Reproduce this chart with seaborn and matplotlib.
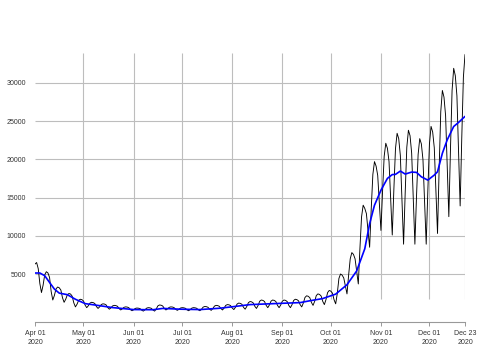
import matplotlib
matplotlib.use("Agg")
import matplotlib.pyplot as plt
import pandas as pd
import seaborn as sns

# daily new cases
apr = [6300, 6500, 5700, 3750, 2580, 3530, 4890, 5300, 5140, 4560, 2710, 1600, 2200, 3050, 3300,
       3200, 2900, 1900, 1300, 1700, 2280, 2450, 2380, 2100, 1230, 700, 1050, 1550, 1700, 1650]
may = [1480, 930, 600, 850, 1200, 1300, 1260, 1140, 740, 500, 710, 1010, 1100, 1070, 960, 610,
       400, 580, 830, 900, 870, 780, 480, 300, 440, 640, 700, 680, 600, 350, 200]
jun = [320, 500, 550, 530, 470, 270, 150, 310, 530, 600, 580, 510, 290, 150, 430, 830, 950, 920,
       820, 500, 300, 440, 640, 700, 680, 610, 390, 250, 370, 550]
jul = [600, 580, 520, 320, 200, 340, 540, 600, 580, 520, 320, 200, 390, 670, 750, 730, 650, 400,
       250, 480, 800, 900, 870, 780, 480, 300, 550, 900, 1000, 970, 870]
aug = [550, 350, 650, 1070, 1200, 1160, 1040, 640, 400, 750, 1250, 1400, 1360, 1220, 770, 500,
       890, 1440, 1600, 1550, 1400, 900, 600, 950, 1450, 1600, 1550, 1400, 900, 600, 950]
sep = [1450, 1600, 1550, 1400, 900, 600, 990, 1540, 1700, 1650, 1500, 1000, 700, 1210, 1930, 2150,
       2090, 1900, 1280, 900, 1430, 2180, 2400, 2330, 2120, 1420, 1000, 1650, 2570, 2850]
oct = [2760, 2500, 1630, 1100, 2470, 4420, 5000, 4850, 4480, 3440, 2400, 4830, 6990, 7800, 7570,
       6980, 5340, 3700, 8340, 12460, 14000, 13580, 12900, 10700, 8500, 13540, 18020, 19700, 19110,
       17900, 14300]
nov = [10700, 15830, 20390, 22100, 21440, 19700, 14900, 10100, 16090, 21400, 23400, 22700, 20500,
       14700, 8900, 15600, 21570, 23800, 23090, 20820, 14860, 8900, 15110, 20630, 22700, 22020,
       19940, 14420, 8900, 15830]
dec = [21990, 24300, 23570, 21500, 15900, 10300, 18720, 26200, 29000, 28130, 25700, 19100, 12500,
       21230, 28990, 31900, 30940, 28300, 21100, 13900, 22810, 30730, 33700]

# smoothed average (blue line)
avg_dates = ["2020-04-01", "2020-04-04", "2020-04-07", "2020-04-10", "2020-04-13", "2020-04-16",
             "2020-04-21", "2020-04-26", "2020-05-02", "2020-05-09", "2020-05-19", "2020-06-01",
             "2020-06-13", "2020-06-19", "2020-06-30", "2020-07-12", "2020-07-24", "2020-08-02",
             "2020-08-12", "2020-09-02", "2020-09-12", "2020-09-18", "2020-09-26", "2020-10-04",
             "2020-10-11", "2020-10-17", "2020-10-22", "2020-10-25", "2020-10-28", "2020-11-01",
             "2020-11-05", "2020-11-08", "2020-11-10", "2020-11-13", "2020-11-16", "2020-11-20",
             "2020-11-23", "2020-11-26", "2020-11-30", "2020-12-04", "2020-12-06", "2020-12-09",
             "2020-12-12", "2020-12-16", "2020-12-19", "2020-12-23"]
avg_values = [5130, 5130, 4780, 3900, 3030, 2500, 2300, 1700, 1130, 920, 610, 350, 330, 500, 400,
              350, 520, 740, 1000, 1180, 1260, 1500, 1790, 2370, 3600, 5400, 8300, 11580, 13990,
              15960, 17500, 18000, 18030, 18460, 18070, 18330, 18290, 17710, 17280, 17940, 18370,
              20790, 22540, 24290, 24820, 25610]

tick_dates = ["2020-04-01", "2020-05-01", "2020-06-01", "2020-07-01", "2020-08-01", "2020-09-01",
              "2020-10-01", "2020-11-01", "2020-12-01", "2020-12-23"]
tick_labels = ["Apr 01\n2020", "May 01\n2020", "Jun 01\n2020", "Jul 01\n2020", "Aug 01\n2020",
               "Sep 01\n2020", "Oct 01\n2020", "Nov 01\n2020", "Dec 01\n2020", "Dec 23\n2020"]
y_ticks = [5000, 10000, 15000, 20000, 25000, 30000]

cases = apr + may + jun + jul + aug + sep + oct + nov + dec
df = pd.DataFrame({"date": pd.date_range("2020-04-01", periods=len(cases), freq="D"),
                   "cases": cases})
trend = pd.DataFrame({"date": pd.to_datetime(avg_dates), "avg": avg_values})
ticks = pd.to_datetime(tick_dates)
start, end = df["date"].iloc[0], df["date"].iloc[-1]

sns.set_theme(style="white")
plt.rcParams["font.family"] = ["Liberation Sans", "DejaVu Sans"]

fig = plt.figure(figsize=(5, 3.5), dpi=100)
ax = fig.add_axes([0.07, 0.08, 0.86, 0.8057])

grid_col = "#bdbdbd"
ax.hlines(y_ticks, start, end, color=grid_col, lw=0.8, zorder=0)
ax.vlines(ticks[1:], 1750, 33860, color=grid_col, lw=0.8, zorder=0)

sns.lineplot(data=df, x="date", y="cases", color="black", lw=0.65, ax=ax)
sns.lineplot(data=trend, x="date", y="avg", color="#0000ff", lw=1.2, ax=ax)

ax.set_xlim(start, end)
ax.set_ylim(-1275, 35600)
ax.set_xticks(ticks)
ax.set_xticklabels(tick_labels, fontsize=5, color="#333333", linespacing=1.3)
ax.set_yticks(y_ticks)
ax.set_yticklabels([str(v) for v in y_ticks], fontsize=5, color="#333333")
ax.tick_params(axis="x", length=3, width=0.6, color="#888888", pad=3, bottom=True)
ax.tick_params(axis="y", length=0, pad=6.5)
ax.set_xlabel("")
ax.set_ylabel("")

for side in ["top", "right", "left"]:
    ax.spines[side].set_visible(False)
ax.spines["bottom"].set_color("#999999")
ax.spines["bottom"].set_linewidth(0.8)

fig.savefig("out.png", dpi=100)
